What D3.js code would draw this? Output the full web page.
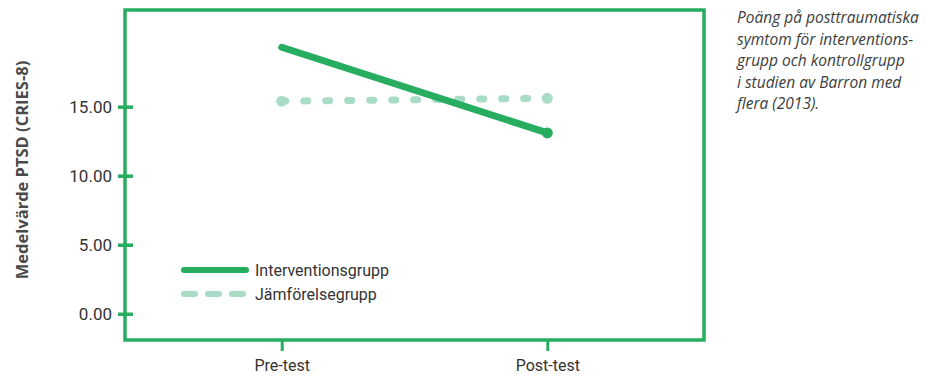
<!DOCTYPE html>
<html>
<head>
<meta charset="utf-8">
<script src="https://cdn.jsdelivr.net/npm/d3@7"></script>
<style>
  body { margin: 0; background: #fff; }
  svg text { font-family: Roboto, "Noto Sans", sans-serif; }
  .tick-label { font-size: 17px; fill: #333; }
  .axis-title { font-family: "Open Sans", sans-serif !important; font-size: 16.5px; font-weight: 700; fill: #4a4a4a; }
  .legend-text { font-size: 16px; fill: #333; }
  .caption { font-family: "Open Sans", sans-serif !important; font-size: 15.5px; font-style: italic; fill: #3d3d3d; }
</style>
</head>
<body>
<svg id="chart" width="927" height="376"></svg>
<script>
// data
const timepoints = ['Pre-test', 'Post-test'];
const interventionValues = [19.3, 13.1];
const controlValues = [15.4, 15.6];
const yTicks = [0, 5, 10, 15];
const seriesNames = ['Interventionsgrupp', 'Jämförelsegrupp'];
const captionLines = [
  'Poäng på posttraumatiska',
  'symtom för interventions-',
  'grupp och kontrollgrupp',
  'i studien av Barron med',
  'flera (2013).'
];
const yLabel = 'Medelvärde PTSD (CRIES-8)';

const green = '#27ad5f';
const lightGreen = '#a9dcc6';

const svg = d3.select('#chart');

const frame = {left: 125, top: 10, right: 704, bottom: 340};

// ---------- scales
const xScale = d3.scalePoint()
  .domain(timepoints)
  .range([frame.left, frame.right])
  .padding(0.59);

const yScale = d3.scaleLinear()
  .domain([-1.9, 22])
  .range([frame.bottom, frame.top]);

// ---------- frame
svg.append('rect')
  .attr('x', frame.left)
  .attr('y', frame.top)
  .attr('width', frame.right - frame.left)
  .attr('height', frame.bottom - frame.top)
  .attr('fill', 'none')
  .attr('stroke', green)
  .attr('stroke-width', 3.5);

// y axis ticks (crossing the frame)
const yAxis = svg.append('g')
  .attr('transform', `translate(${frame.left + 8}, 0)`)
  .call(d3.axisLeft(yScale)
    .tickValues(yTicks)
    .tickSize(15)
    .tickPadding(6)
    .tickFormat(d3.format('.2f')));
yAxis.select('.domain').remove();
yAxis.selectAll('line').attr('stroke', green).attr('stroke-width', 3.5);
yAxis.selectAll('text').attr('class', 'tick-label').attr('font-size', null).attr('font-family', null).attr('fill', null);

// x axis ticks
const xAxis = svg.append('g')
  .attr('transform', `translate(0, ${frame.bottom})`)
  .call(d3.axisBottom(xScale).tickSize(11).tickPadding(9));
xAxis.select('.domain').remove();
xAxis.selectAll('line').attr('stroke', green).attr('stroke-width', 3);
xAxis.selectAll('text').attr('class', 'tick-label').style('font-size', '16px').attr('font-size', null).attr('font-family', null).attr('fill', null);

// ---------- lines
const line = d3.line()
  .x((d, i) => xScale(timepoints[i]))
  .y(d => yScale(d));

svg.append('path')
  .datum(controlValues)
  .attr('d', line)
  .attr('fill', 'none')
  .attr('stroke', lightGreen)
  .attr('stroke-width', 7)
  .attr('stroke-linecap', 'round')
  .attr('stroke-dasharray', '4 18');

svg.selectAll('.ctrl-dot')
  .data(controlValues)
  .join('circle')
  .attr('class', 'ctrl-dot')
  .attr('cx', (d, i) => xScale(timepoints[i]))
  .attr('cy', d => yScale(d))
  .attr('r', 5.5)
  .attr('fill', lightGreen);

svg.append('path')
  .datum(interventionValues)
  .attr('d', line)
  .attr('fill', 'none')
  .attr('stroke', green)
  .attr('stroke-width', 7)
  .attr('stroke-linecap', 'round');

svg.append('circle')
  .attr('cx', xScale(timepoints[1]))
  .attr('cy', yScale(interventionValues[1]))
  .attr('r', 5.5)
  .attr('fill', green);

// ---------- legend
const legend = svg.append('g').attr('transform', 'translate(184, 270)');

legend.append('line')
  .attr('x1', 0).attr('x2', 62).attr('y1', 0).attr('y2', 0)
  .attr('stroke', green).attr('stroke-width', 6).attr('stroke-linecap', 'round');

legend.append('line')
  .attr('x1', 0).attr('x2', 62).attr('y1', 24).attr('y2', 24)
  .attr('stroke', lightGreen).attr('stroke-width', 6).attr('stroke-linecap', 'round')
  .attr('stroke-dasharray', '11 13');

legend.selectAll('text')
  .data(seriesNames)
  .join('text')
  .attr('class', 'legend-text')
  .attr('x', 71)
  .attr('y', (d, i) => i * 24)
  .attr('dy', '0.35em')
  .text(d => d);

// ---------- y label
svg.append('text')
  .attr('class', 'axis-title')
  .attr('transform', 'rotate(-90)')
  .attr('x', -170)
  .attr('y', 28)
  .attr('text-anchor', 'middle')
  .text(yLabel);

// ---------- caption
svg.append('g')
  .selectAll('text')
  .data(captionLines)
  .join('text')
  .attr('class', 'caption')
  .attr('x', 737)
  .attr('y', (d, i) => 23 + i * 21.5)
  .text(d => d);
</script>
</body>
</html>
